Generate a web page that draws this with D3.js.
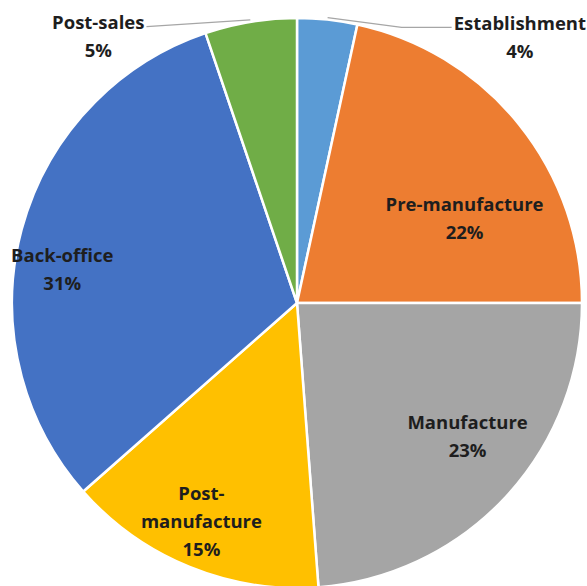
<!DOCTYPE html>
<html>
<head>
<meta charset="utf-8">
<script src="https://cdn.jsdelivr.net/npm/d3@7"></script>
<style>
  html, body { margin: 0; padding: 0; background: #fff; }
  svg { display: block; }
  text { font-family: "Open Sans", Lato, sans-serif; font-weight: 700; fill: #1e1e1e; }
</style>
</head>
<body>
<svg id="chart" width="587" height="586"></svg>
<script>
// ---- data ----
const categories = ["Establishment", "Pre-manufacture", "Manufacture", "Post-manufacture", "Back-office", "Post-sales"];
const values = [3.4, 21.6, 23.8, 14.7, 31.3, 5.2];
const pctLabels = ["4%", "22%", "23%", "15%", "31%", "5%"];
const labelLines = [["Establishment"], ["Pre-manufacture"], ["Manufacture"], ["Post-", "manufacture"], ["Back-office"], ["Post-sales"]];
const colors = ["#5B9BD5", "#ED7D31", "#A5A5A5", "#FFC000", "#4472C4", "#70AD47"];

// ---- layout (styling / placement, not data) ----
const cx = 297, cy = 303, R = 285;
const labelOffsets = [[204, -91], [30, 25], [41, 12], [-29, 54], [-64, 11.5], [-170, -93]];
const outsideLabel = [true, false, false, false, false, true];
const lineH = 28;

const svg = d3.select("#chart");
const g = svg.append("g").attr("transform", `translate(${cx},${cy})`);

const pie = d3.pie().sort(null).value(d => d.v);
const arcs = pie(categories.map((c, i) => ({ c, v: values[i], i })));

const arc = d3.arc().innerRadius(0).outerRadius(R);
const labelArc = d3.arc().innerRadius(R * 0.62).outerRadius(R * 0.62);

g.selectAll("path.slice")
  .data(arcs)
  .join("path")
  .attr("class", "slice")
  .attr("d", arc)
  .attr("fill", d => colors[d.data.i])
  .attr("stroke", "#fff")
  .attr("stroke-width", 2.5)
  .attr("stroke-linejoin", "round");

// labels
const labels = g.selectAll("g.label")
  .data(arcs)
  .join("g")
  .attr("class", "label")
  .attr("transform", d => {
    const [x, y] = labelArc.centroid(d);
    const o = labelOffsets[d.data.i];
    return `translate(${x + o[0]},${y + o[1]})`;
  });

labels.each(function(d) {
  const lines = labelLines[d.data.i].concat([pctLabels[d.data.i]]);
  const n = lines.length;
  const sel = d3.select(this);
  lines.forEach((t, k) => {
    sel.append("text")
      .attr("text-anchor", "middle")
      .attr("dominant-baseline", "central")
      .attr("y", (k - (n - 1) / 2) * lineH)
      .attr("font-size", 18.5)
      .text(t);
  });
});

// leader lines for outside labels
arcs.forEach(d => {
  const i = d.data.i;
  if (!outsideLabel[i]) return;
  const mid = (d.startAngle + d.endAngle) / 2;
  const p0 = [Math.sin(mid) * (R + 2), -Math.cos(mid) * (R + 2)];
  const [lx, ly] = labelArc.centroid(d);
  const o = labelOffsets[i];
  const firstText = labels.filter(e => e.data.i === i).select("text").node();
  const w = firstText.getComputedTextLength();
  const tx = lx + o[0], ty = ly + o[1] - lineH / 2 + 5;
  const right = p0[0] < tx;
  const edgeX = right ? tx - w / 2 - 2 : tx + w / 2 + 2;
  const pts = right
    ? [p0, [edgeX - 50, ty], [edgeX, ty]]
    : [p0, [edgeX, ty]];
  g.append("path")
    .attr("d", d3.line()(pts))
    .attr("fill", "none")
    .attr("stroke", "#A6A6A6")
    .attr("stroke-width", 1.3);
});
</script>
</body>
</html>
